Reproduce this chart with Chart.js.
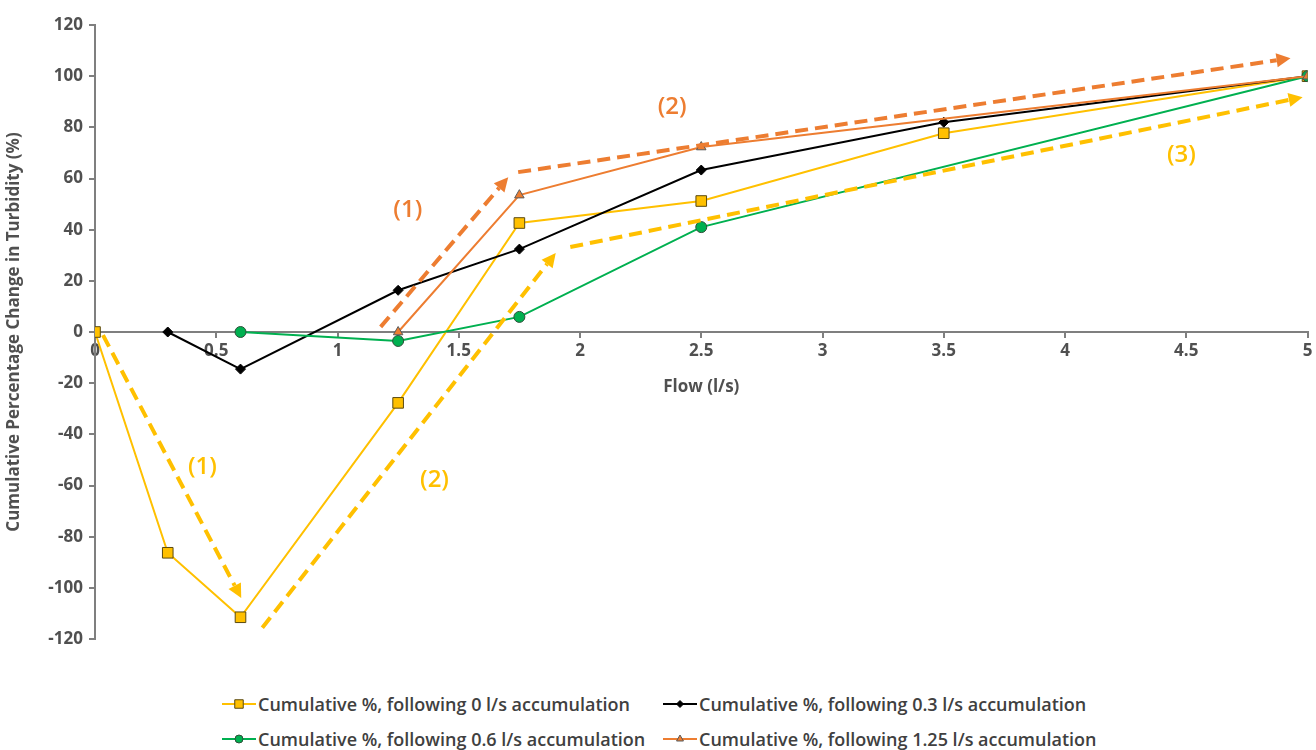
<!DOCTYPE html>
<html>
<head>
<meta charset="utf-8">
<script src="https://cdn.jsdelivr.net/npm/chart.js@4.4.1/dist/chart.umd.min.js"></script>
<style>
    html, body { margin: 0; padding: 0; background: #fff; }
    #wrap { position: relative; width: 1316px; height: 750px; }
    #chart { position: absolute; left: 0; top: 0; }
    .legend { position: absolute; font-family: "Open Sans", sans-serif; font-weight: 600; font-size: 18px; color: #404040; white-space: nowrap; }
    .legend .item { position: absolute; display: flex; align-items: center; }
    .legend canvas { margin-right: 2px; }
</style>
</head>
<body>
<div id="wrap">
    <canvas id="chart" width="1316" height="680"></canvas>
    <div class="legend" id="legend"></div>
</div>
<script>
// Flow (l/s) and cumulative % change for each accumulation run
const flow0 = [0, 0.3, 0.6, 1.25, 1.75, 2.5, 3.5, 5];
const cum0 = [0, -86.3, -111.5, -27.7, 42.6, 51.2, 77.7, 100];

const flow03 = [0.3, 0.6, 1.25, 1.75, 2.5, 3.5, 5];
const cum03 = [0, -14.5, 16.3, 32.4, 63.3, 82, 100];

const flow06 = [0.6, 1.25, 1.75, 2.5, 5];
const cum06 = [0, -3.5, 5.9, 41, 100];

const flow125 = [1.25, 1.75, 2.5, 5];
const cum125 = [0, 53.5, 72.3, 100];

const seriesLabels = [
    'Cumulative %, following 0 l/s accumulation',
    'Cumulative %, following 0.3 l/s accumulation',
    'Cumulative %, following 0.6 l/s accumulation',
    'Cumulative %, following 1.25 l/s accumulation'
];

// dashed trend arrows, [x1, y1, x2, y2] in data units
const orangeArrows = [[1.178, 2, 1.704, 60.5], [1.745, 62.5, 4.93, 107]];
const yellowArrows = [[0.033, -1.2, 0.603, -104], [0.69, -115.6, 1.90, 30.9], [1.96, 33.2, 4.98, 91.8]];
// phase labels [text, x, y]
const orangeNotes = [['(1)', 1.29, 47.7], ['(2)', 2.38, 88]];
const yellowNotes = [['(1)', 0.443, -52.7], ['(2)', 1.40, -57.8], ['(3)', 4.48, 69]];

const YELLOW = '#FFC000';
const ORANGE = '#ED7D31';
const GREEN = '#00B050';
const AXIS = '#7f7f7f';
const TEXT = '#505050';
const FONT = '"Open Sans", sans-serif';

const toXY = (xs, ys) => xs.map((x, i) => ({ x: x, y: ys[i] }));

const styles = [
    { color: YELLOW, fill: YELLOW, pointStyle: 'rect', radius: 7.5, border: '#5a4a10' },
    { color: '#000000', fill: '#000000', pointStyle: 'rectRot', radius: 5, border: '#000000' },
    { color: GREEN, fill: GREEN, pointStyle: 'circle', radius: 5.5, border: '#2f4f3a' },
    { color: ORANGE, fill: ORANGE, pointStyle: 'triangle', radius: 5.5, border: '#5a5a5a' }
];

const seriesData = [toXY(flow0, cum0), toXY(flow03, cum03), toXY(flow06, cum06), toXY(flow125, cum125)];

const datasets = seriesData.map((d, i) => ({
    label: seriesLabels[i],
    data: d,
    borderColor: styles[i].color,
    borderWidth: 2,
    pointStyle: styles[i].pointStyle,
    pointRadius: styles[i].radius,
    pointBackgroundColor: styles[i].fill,
    pointBorderColor: styles[i].border,
    pointBorderWidth: 1,
    tension: 0,
    order: 4 - i
}));

function drawArrow(ctx, x1, y1, x2, y2, color) {
    const ang = Math.atan2(y2 - y1, x2 - x1);
    const head = 14;
    const bx = x2 - Math.cos(ang) * head;
    const by = y2 - Math.sin(ang) * head;
    ctx.save();
    ctx.strokeStyle = color;
    ctx.lineWidth = 4;
    ctx.setLineDash([13, 7]);
    ctx.beginPath();
    ctx.moveTo(x1, y1);
    ctx.lineTo(bx, by);
    ctx.stroke();
    ctx.setLineDash([]);
    ctx.fillStyle = color;
    ctx.beginPath();
    ctx.moveTo(x2, y2);
    ctx.lineTo(bx + Math.cos(ang + Math.PI / 2) * 7, by + Math.sin(ang + Math.PI / 2) * 7);
    ctx.lineTo(bx + Math.cos(ang - Math.PI / 2) * 7, by + Math.sin(ang - Math.PI / 2) * 7);
    ctx.closePath();
    ctx.fill();
    ctx.restore();
}

const annotations = {
    id: 'annotations',
    afterDatasetsDraw(chart) {
        const ctx = chart.ctx;
        const xs = chart.scales.x, ys = chart.scales.y;
        const px = v => xs.getPixelForValue(v);
        const py = v => ys.getPixelForValue(v);
        orangeArrows.forEach(a => drawArrow(ctx, px(a[0]), py(a[1]), px(a[2]), py(a[3]), ORANGE));
        yellowArrows.forEach(a => drawArrow(ctx, px(a[0]), py(a[1]), px(a[2]), py(a[3]), YELLOW));
        ctx.save();
        ctx.font = '600 24px ' + FONT;
        ctx.textAlign = 'center';
        ctx.textBaseline = 'middle';
        ctx.fillStyle = ORANGE;
        orangeNotes.forEach(n => ctx.fillText(n[0], px(n[1]), py(n[2])));
        ctx.fillStyle = YELLOW;
        yellowNotes.forEach(n => ctx.fillText(n[0], px(n[1]), py(n[2])));
        ctx.restore();
    }
};

const tickFont = { family: FONT, size: 17, weight: 'bold' };
const titleFont = { family: FONT, size: 17, weight: 'bold' };

new Chart(document.getElementById('chart'), {
    type: 'line',
    data: { datasets: datasets },
    options: {
        responsive: false,
        animation: false,
        layout: { padding: { top: 25, right: 3, bottom: 41, left: 0 } },
        plugins: { legend: { display: false }, tooltip: { enabled: false } },
        scales: {
            x: {
                type: 'linear',
                position: { y: 0 },
                min: 0, max: 5,
                afterFit(scale) { scale.paddingRight = 0; scale.paddingLeft = 0; },
                ticks: { stepSize: 0.5, color: TEXT, font: tickFont, padding: 4, maxRotation: 0, callback: v => String(v) },
                grid: { drawOnChartArea: false, drawTicks: true, tickLength: 5, color: AXIS, lineWidth: 2 },
                border: { display: true, color: AXIS, width: 2 },
                title: { display: true, text: 'Flow (l/s)', color: TEXT, font: titleFont, padding: { top: 12 } }
            },
            y: {
                min: -120, max: 120,
                afterFit(scale) { scale.width = 95; },
                ticks: { stepSize: 20, color: TEXT, font: tickFont, padding: 6 },
                grid: { drawOnChartArea: false, drawTicks: true, tickLength: 6, color: AXIS, lineWidth: 2 },
                border: { display: true, color: AXIS, width: 2 },
                title: { display: true, text: 'Cumulative Percentage Change in Turbidity (%)', color: TEXT, font: titleFont, padding: 4 }
            }
        }
    },
    plugins: [annotations]
});

// legend laid out as two columns like the original
const legendPos = [[222, 705], [663, 705], [222, 740], [663, 740]];
const legendEl = document.getElementById('legend');
seriesLabels.forEach((label, i) => {
    const item = document.createElement('div');
    item.className = 'item';
    item.style.left = legendPos[i][0] + 'px';
    item.style.top = (legendPos[i][1] - 13) + 'px';
    const c = document.createElement('canvas');
    c.width = 34; c.height = 20;
    const g = c.getContext('2d');
    g.strokeStyle = styles[i].color;
    g.lineWidth = 2;
    g.beginPath(); g.moveTo(0, 10); g.lineTo(34, 10); g.stroke();
    g.fillStyle = styles[i].fill; g.strokeStyle = styles[i].border; g.lineWidth = 1;
    Chart.helpers.drawPoint(g, { pointStyle: styles[i].pointStyle, radius: styles[i].radius - 1.5, borderWidth: 1 }, 17, 10);
    item.appendChild(c);
    const t = document.createElement('span');
    t.textContent = label;
    item.appendChild(t);
    legendEl.appendChild(item);
});
</script>
</body>
</html>
